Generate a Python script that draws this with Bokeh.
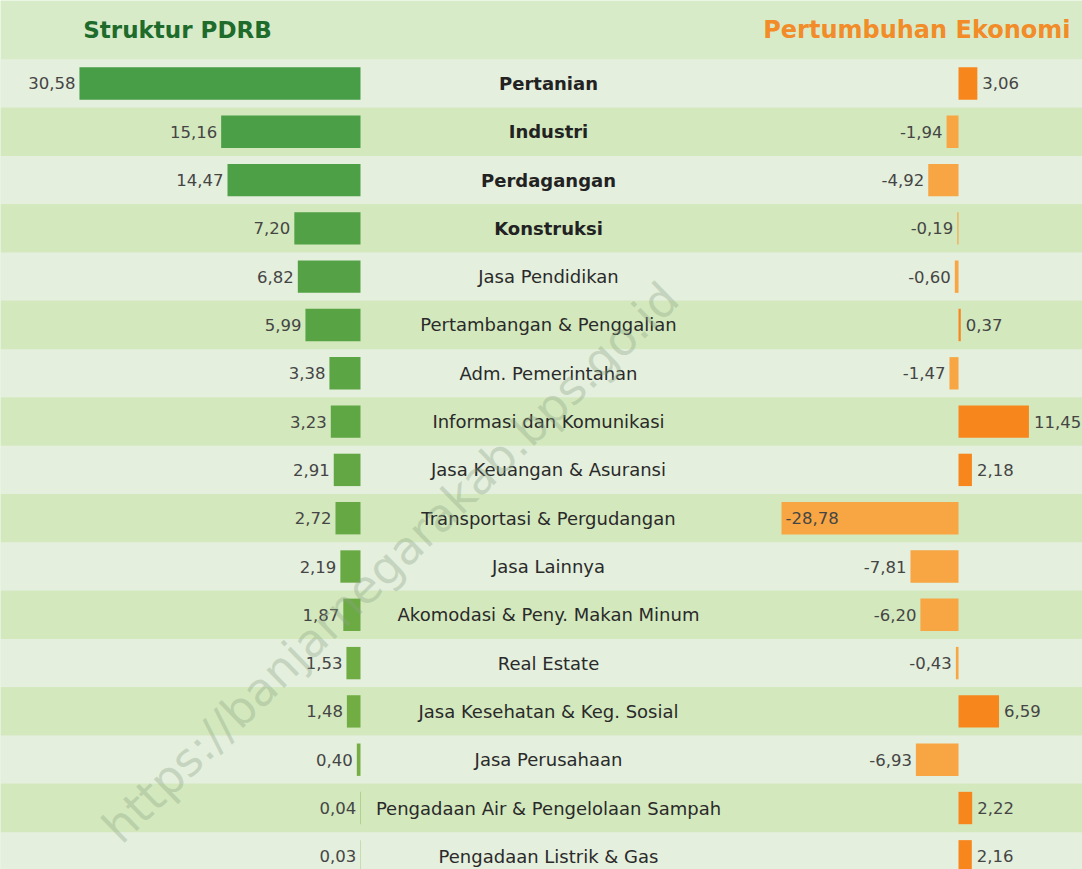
from bokeh.plotting import figure
from bokeh.models import Range1d
from bokeh.core.properties import value
from bokeh.embed import file_html
from bokeh.resources import INLINE

categories = [
    "Pertanian", "Industri", "Perdagangan", "Konstruksi", "Jasa Pendidikan",
    "Pertambangan & Penggalian", "Adm. Pemerintahan", "Informasi dan Komunikasi",
    "Jasa Keuangan & Asuransi", "Transportasi & Pergudangan", "Jasa Lainnya",
    "Akomodasi & Peny. Makan Minum", "Real Estate", "Jasa Kesehatan & Keg. Sosial",
    "Jasa Perusahaan", "Pengadaan Air & Pengelolaan Sampah", "Pengadaan Listrik & Gas",
]
struktur = [30.58, 15.16, 14.47, 7.20, 6.82, 5.99, 3.38, 3.23, 2.91, 2.72,
            2.19, 1.87, 1.53, 1.48, 0.40, 0.04, 0.03]
pertumbuhan = [3.06, -1.94, -4.92, -0.19, -0.60, 0.37, -1.47, 11.45, 2.18, -28.78,
               -7.81, -6.20, -0.43, 6.59, -6.93, 2.22, 2.16]
bold_count = 4
title_left = "Struktur PDRB"
title_right = "Pertumbuhan Ekonomi"
watermark = "https://banjarnegarakab.bps.go.id"

def fmt(v):
    return f"{v:.2f}".replace(".", ",")

n = len(categories)
idx = list(range(n))

W, H = 1082, 869
p = figure(width=W, height=H, min_border=0, toolbar_location=None,
           output_backend="svg",
           x_range=Range1d(0, W), y_range=Range1d(16.273, -1.718))
p.axis.visible = False
p.grid.visible = False
p.outline_line_color = None
p.background_fill_color = "#d8ebc9"
p.border_fill_color = "#d8ebc9"
p.extra_x_ranges = {"left": Range1d(39.17, -78.56), "right": Range1d(-155.77, 20.16)}

# stripes
stripe_cols = ["#e4efdd" if i % 2 == 0 else "#d3e8bd" for i in idx]
p.hbar(y=idx, left=0, right=W, height=1.0, color=stripe_cols, line_color=None)

def lerp(c1, c2, t):
    a = [int(c1[k:k+2], 16) for k in (1, 3, 5)]
    b = [int(c2[k:k+2], 16) for k in (1, 3, 5)]
    return "#" + "".join(f"{round(a[j] + (b[j]-a[j])*t):02x}" for j in range(3))

greens = [lerp("#489e47", "#7cb042", i / (n - 1)) for i in idx]
oranges = ["#f7871d" if v >= 0 else "#f7a643" for v in pertumbuhan]

p.hbar(y=idx, left=0, right=struktur, height=0.67, color=greens, line_color=None,
       x_range_name="left")
p.hbar(y=idx, left=0, right=pertumbuhan, height=0.67, color=oranges, line_color=None,
       x_range_name="right")

num_font = value("DejaVu Sans")
lbl_font = value("DejaVu Sans")

p.text(x=struktur, y=idx, text=[fmt(v) for v in struktur], x_range_name="left",
       text_align="right", text_baseline="middle", x_offset=-4,
       text_font=num_font, text_font_size="16.5px", text_color="#454545")

pos = [i for i in idx if pertumbuhan[i] >= 0]
neg = [i for i in idx if -20 <= pertumbuhan[i] < 0]
inside = [i for i in idx if pertumbuhan[i] < -20]
for group, align, off in ((pos, "left", 5), (neg, "right", -4), (inside, "left", 4)):
    p.text(x=[pertumbuhan[i] for i in group], y=group,
           text=[fmt(pertumbuhan[i]) for i in group], x_range_name="right",
           text_align=align, text_baseline="middle", x_offset=off,
           text_font=num_font, text_font_size="16.5px", text_color="#454545")

p.text(x=[548] * bold_count, y=idx[:bold_count], text=categories[:bold_count],
       text_align="center", text_baseline="middle", text_font=lbl_font,
       text_font_size="18px", text_font_style="bold", text_color="#222222")
p.text(x=[548] * (n - bold_count), y=idx[bold_count:], text=categories[bold_count:],
       text_align="center", text_baseline="middle", text_font=lbl_font,
       text_font_size="18px", text_color="#2a2a2a")

p.text(x=[177], y=[-1.1], text=[title_left], text_align="center", text_baseline="middle",
       text_font=lbl_font, text_font_size="23px", text_font_style="bold",
       text_color="#1f6b2c")
p.text(x=[1070], y=[-1.1], text=[title_right], text_align="right", text_baseline="middle",
       text_font=lbl_font, text_font_size="24px", text_font_style="bold",
       text_color="#f28c28")

p.text(x=[390], y=[9.92], text=[watermark], text_align="center", text_baseline="middle",
       angle=0.77, text_font=lbl_font, text_font_size="46px", text_color="#8aa385",
       text_alpha=0.35)

open("out.html", "w").write(file_html(p, INLINE))
